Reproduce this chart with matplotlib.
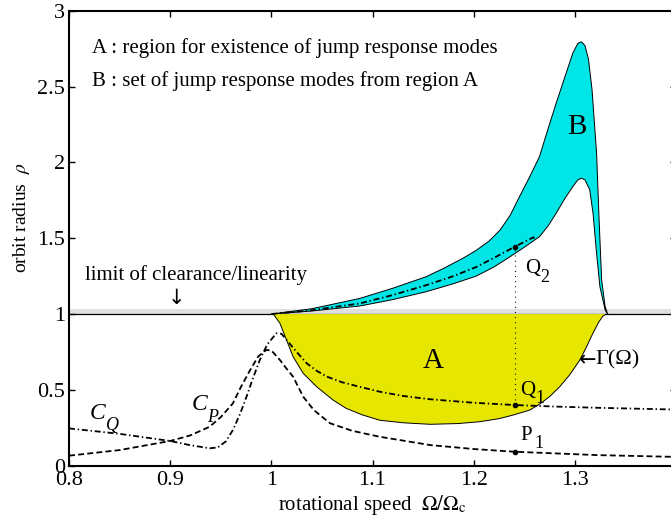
import matplotlib
matplotlib.use("Agg")
import matplotlib.pyplot as plt

plt.rcParams["font.family"] = ["Liberation Serif", "DejaVu Serif"]
plt.rcParams["mathtext.fontset"] = "stix"
plt.rcParams["lines.scale_dashes"] = False

# ── Data ─────────────────────────────────────────────────────────────────────
# region B (cyan): upper and lower boundaries
b_up_x = [1.000, 1.040, 1.0875, 1.120, 1.153, 1.170, 1.190, 1.2025, 1.215, 1.226,
          1.236, 1.245, 1.255, 1.265, 1.273, 1.2815, 1.290, 1.298, 1.303, 1.3065,
          1.310, 1.3135, 1.317, 1.3215, 1.324, 1.3265, 1.330, 1.3325]
b_up_y = [1.000, 1.035, 1.103, 1.170, 1.246, 1.300, 1.370, 1.420, 1.480, 1.553,
          1.650, 1.770, 1.900, 2.037, 2.210, 2.389, 2.560, 2.720, 2.785, 2.795,
          2.770, 2.680, 2.480, 2.060, 1.620, 1.224, 1.048, 1.000]
b_lo_x = [1.000, 1.040, 1.0875, 1.120, 1.153, 1.180, 1.2025, 1.220, 1.236, 1.250,
          1.265, 1.2735, 1.2815, 1.290, 1.298, 1.303, 1.3065, 1.310, 1.3147, 1.318,
          1.3215, 1.3248, 1.330, 1.3325]
b_lo_y = [1.000, 1.020, 1.053, 1.095, 1.147, 1.200, 1.250, 1.310, 1.378, 1.440,
          1.510, 1.580, 1.664, 1.760, 1.840, 1.885, 1.895, 1.885, 1.820, 1.664,
          1.400, 1.180, 1.026, 1.000]

# region A (yellow): lower boundary Gamma(Omega)
gam_x = [1.002, 1.0085, 1.015, 1.0215, 1.0315, 1.0447, 1.061, 1.074, 1.090, 1.107,
         1.130, 1.157, 1.185, 1.206, 1.225, 1.239, 1.2555, 1.265, 1.275, 1.285,
         1.295, 1.305, 1.312, 1.318, 1.3235, 1.3275, 1.331]
gam_y = [1.000, 0.939, 0.829, 0.719, 0.609, 0.521, 0.433, 0.378, 0.335, 0.300,
         0.283, 0.273, 0.278, 0.290, 0.310, 0.334, 0.367, 0.405, 0.455, 0.520,
         0.600, 0.697, 0.790, 0.875, 0.945, 0.985, 1.000]

# C_Q (dash-dot), lower branch
cq_x = [0.800, 0.850, 0.900, 0.920, 0.939, 0.947, 0.955, 0.962, 0.969, 0.9755,
        0.982, 0.9886, 0.996, 1.005, 1.010, 1.015, 1.025, 1.035, 1.045, 1.055,
        1.070, 1.0875, 1.107, 1.130, 1.157, 1.200, 1.2407, 1.280, 1.3215, 1.400]
cq_y = [0.246, 0.210, 0.163, 0.135, 0.115, 0.120, 0.160, 0.235, 0.340, 0.455,
        0.580, 0.697, 0.800, 0.873, 0.870, 0.830, 0.750, 0.675, 0.625, 0.587,
        0.550, 0.520, 0.488, 0.460, 0.438, 0.415, 0.400, 0.390, 0.382, 0.370]
# C_Q, upper branch (inside B)
cq2_x = [1.000, 1.040, 1.0875, 1.120, 1.153, 1.180, 1.2025, 1.220, 1.2407, 1.259, 1.261]
cq2_y = [1.000, 1.025, 1.070, 1.125, 1.190, 1.250, 1.310, 1.370, 1.444, 1.506, 1.490]

# C_P (dashed)
cp_x = [0.800, 0.850, 0.900, 0.920, 0.939, 0.950, 0.962, 0.970, 0.979, 0.987,
        0.995, 1.000, 1.0085, 1.015, 1.0215, 1.0315, 1.042, 1.058, 1.080, 1.107,
        1.157, 1.200, 1.2407, 1.3215, 1.400]
cp_y = [0.066, 0.103, 0.163, 0.200, 0.257, 0.320, 0.411, 0.520, 0.630, 0.720,
        0.763, 0.760, 0.697, 0.640, 0.587, 0.455, 0.367, 0.280, 0.230, 0.191,
        0.136, 0.110, 0.092, 0.070, 0.058]

# marked operating points
omega_op = 1.2407
pts_y = [0.400, 0.092, 1.444]   # Q1, P1, Q2

band_lo, band_hi = 1.0, 1.035

xticks = [0.8, 0.9, 1.0, 1.1, 1.2, 1.3]
xtick_labels = ["0.8", "0.9", "1", "1.1", "1.2", "1.3"]
yticks = [0, 0.5, 1, 1.5, 2, 2.5, 3]
ytick_labels = ["0", "0.5", "1", "1.5", "2", "2.5", "3"]

# ── Plot ─────────────────────────────────────────────────────────────────────
fig = plt.figure(figsize=(6.71, 5.29), dpi=100)
ax = fig.add_axes([69/671, 63.3/529, 607/671, 455/529])
ax.set_xlim(0.8, 1.4)
ax.set_ylim(0, 3)

ax.axhspan(band_lo, band_hi, color="#e0e0e0", lw=0, zorder=0)
ax.axhline(1.0, color="black", lw=0.9, zorder=1)

ax.fill(b_up_x + b_lo_x[::-1], b_up_y + b_lo_y[::-1],
        facecolor="#00e5e5", edgecolor="black", lw=0.7, zorder=2)
ax.fill(gam_x, gam_y, facecolor="#e6e600", edgecolor="none", zorder=2)
ax.plot(gam_x, gam_y, color="black", lw=0.7, zorder=3)

dashdot = (4.3, 2.0, 1.0, 2.0)
ax.plot(cq_x, cq_y, color="black", lw=1.3, dashes=dashdot, zorder=4)
ax.plot(cq2_x, cq2_y, color="black", lw=1.3, dashes=dashdot, zorder=4)
ax.plot(cp_x, cp_y, color="black", lw=1.3, dashes=(4.3, 2.3), zorder=4)

ax.plot([omega_op, omega_op], [pts_y[0], pts_y[2]], color="black", lw=0.8,
        dashes=(0.7, 3.0), zorder=4)
ax.plot([omega_op]*3, pts_y, "o", color="black", ms=3, zorder=5)

# texts
ax.text(0.8227, 2.718, "A : region for existence of jump response modes", fontsize=15)
ax.text(0.8227, 2.503, "B : set of jump response modes from region A", fontsize=15)
ax.text(0.8158, 1.224, "limit of clearance/linearity", fontsize=15)
ax.text(0.906, 1.105, "\u2193", fontsize=15, ha="center", va="center",
        family="DejaVu Sans")
ax.text(1.3016, 2.233, "B", fontsize=21, ha="center", va="center")
ax.text(1.1597, 0.691, "A", fontsize=21, ha="center", va="center")

ax.text(1.2506, 1.27, "Q", fontsize=15)
ax.text(1.2654, 1.213, "2", fontsize=13)
ax.text(1.2457, 0.466, "Q", fontsize=15)
ax.text(1.2615, 0.413, "1", fontsize=13)
ax.text(1.2457, 0.17, "P", fontsize=15)
ax.text(1.2605, 0.115, "1", fontsize=13)

ax.text(1.3045, 0.697, "\u2190", fontsize=15, va="center", family="DejaVu Sans")
ax.text(1.3205, 0.697, "\u0393(\u03a9)", fontsize=16, va="center")

ax.text(0.8207, 0.31, "C", fontsize=17, style="italic")
ax.text(0.8365, 0.235, "Q", fontsize=13, style="italic")
ax.text(0.921, 0.367, "C", fontsize=17, style="italic")
ax.text(0.9368, 0.29, "P", fontsize=13, style="italic")

ax.set_xticks(xticks)
ax.set_xticklabels(xtick_labels)
ax.set_yticks(yticks)
ax.set_yticklabels(ytick_labels)
ax.tick_params(direction="in", length=4, width=1.0, labelsize=16,
               top=True, right=True)
ax.tick_params(axis="x", pad=4)
ax.tick_params(axis="y", pad=3)
for sp in ax.spines.values():
    sp.set_linewidth(1.5)

ax.set_xlabel(r"rotational speed  $\Omega/\Omega_\mathrm{c}$", fontsize=15, labelpad=2)
ax.set_ylabel(r"orbit radius  $\rho$", fontsize=14)
ax.yaxis.set_label_coords(-0.061, 0.544)

fig.savefig("out.png", dpi=100)
